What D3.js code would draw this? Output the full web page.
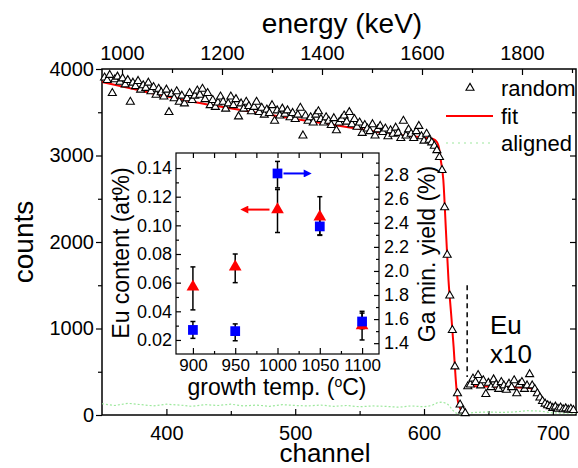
<!DOCTYPE html>
<html lang="en">
<head>
<meta charset="UTF-8">
<title>RBS spectrum</title>
<style>
  body { margin: 0; background: #fff; }
  svg text { font-family: "Liberation Sans", Arial, sans-serif; fill: #000; }
</style>
</head>
<body>
<script src="https://d3js.org/d3.v7.min.js"></script>
<script>

// ---- main spectrum: random direction (every 2 channels) ----
var channels = [
  352,354,356,358,360,362,364,366,368,370, 372,374,376,378,380,382,384,386,388,390,
  392,394,396,398,400,402,404,406,408,410, 412,414,416,418,420,422,424,426,428,430,
  432,434,436,438,440,442,444,446,448,450, 452,454,456,458,460,462,464,466,468,470,
  472,474,476,478,480,482,484,486,488,490, 492,494,496,498,500,502,504,506,508,510,
  512,514,516,518,520,522,524,526,528,530, 532,534,536,538,540,542,544,546,548,550,
  552,554,556,558,560,562,564,566,568,570, 572,574,576,578,580,582,584,586,588,590,
  592,594,596,598,600,602,604,606,608,610, 612,614,616,618,620,622,624,626,628,630,
  632,634,636,638,640,642,644,646,648,650, 652,654,656,658,660,662,664,666,668,670,
  672,674,676,678,680,682,684,686,688,690, 692,694,696,698,700,702,704,706,708,710,
  712,714,716
];
var randomCounts = [
  3900,3870,3930,3720,3880,3910,3850,3890,3820,3870, 3620,3840,3800,3860,3760,3810,3780,3840,3740,3790,
  3700,3770,3730,3680,3760,3500,3710,3660,3740,3620, 3690,3600,3660,3720,3640,3690,3750,3700,3770,3650,
  3720,3580,3640,3560,3610,3680,3620,3540,3600,3680, 3580,3650,3450,3600,3540,3620,3570,3510,3560,3620,
  3500,3550,3470,3530,3490,3580,3400,3520,3460,3540, 3480,3520,3440,3490,3420,3470,3550,3230,3460,3400,
  3440,3380,3470,3510,3420,3380,3440,3400,3350,3430, 3290,3380,3420,3460,3390,3500,3360,3420,3330,3380,
  3260,3350,3310,3280,3360,3230,3300,3340,3270,3310, 3220,3290,3250,3320,3260,3200,3400,3230,3300,3250,
  3200,3280,3340,3220,3170,3250,3180,3150,3110,3060, 2980,2830,2400,1850,1380,980,560,250,120,50,
  20,330,350,420,380,460,340,400,240,370, 320,410,350,300,380,340,290,360,320,400,
  250,350,380,300,340,470,340,300,250,200, 160,130,110,100,80,95,70,85,65,75,
  60,70,55
];

// fit curve (main part and Eu part)
var fitChannels = [350,380,426,460,500,540,574,600,607,610,612,613,615,617,619,621,623,624.5,625.5,627,630,633];
var fitCounts   = [3850,3750,3607,3520,3422,3330,3249,3205,3190,3156,3060,2950,2717,2139,1561,1179,786,439,254,116,35,5];
var fitEuChannels = [633.5,650,670,682,686,688,690,692,695,700,706,712,718];
var fitEuCounts   = [335,330,320,312,280,250,190,140,92,69,58,50,46];

// aligned direction
var alignedChannels = [350,360,370,380,390,400,410,420,430,440,450,460,470,480,490,500,510,520,530,540,
  550,560,570,580,590,600,606,610,614,618,620,622,624,626,630,634,640,650,660,670,680,690,700,710,718];
var alignedCounts = [130,110,135,120,105,125,115,100,120,110,125,105,115,100,120,110,105,115,100,110,
  95,105,100,90,105,95,110,140,150,130,100,60,30,15,10,20,30,35,30,35,50,45,25,20,20];

// ---- inset ----
var temps = [900, 950, 1000, 1050, 1100];
var euContent = [0.057, 0.071, 0.111, 0.106, 0.030];
var euLow     = [0.041, 0.060, 0.095, 0.093, 0.020];
var euHigh    = [0.071, 0.080, 0.125, 0.120, 0.040];
var gaYield = [1.51, 1.50, 2.81, 2.37, 1.58];
var gaLow   = [1.44, 1.42, 2.69, 2.30, 1.52];
var gaHigh  = [1.58, 1.56, 2.91, 2.44, 1.65];

// tick values
var chTicks = [400, 500, 600, 700], chMinor = [450, 550, 650];
var countTicks = [0, 1000, 2000, 3000, 4000], countMinor = [500, 1500, 2500, 3500];
var energyTicks = [1000, 1200, 1400, 1600, 1800], energyMinor = [1100, 1300, 1500, 1700, 1900];
var tempTicks = [900, 950, 1000, 1050, 1100], tempMinor = [925, 975, 1025, 1075];
var euTicks = [0.02, 0.04, 0.06, 0.08, 0.10, 0.12, 0.14], euMinor = [0.03, 0.05, 0.07, 0.09, 0.11, 0.13];
var gaTicks = [1.4, 1.6, 1.8, 2.0, 2.2, 2.4, 2.6, 2.8], gaMinor = [1.5, 1.7, 1.9, 2.1, 2.3, 2.5, 2.7, 2.9];

var width = 578, height = 468;
var plot = { left: 102, right: 576, top: 69, bottom: 415 };
var inset = { left: 176, right: 379, top: 153, bottom: 354 };
var intFmt = d3.format("d");

var svg = d3.select("body").append("svg")
  .attr("width", width).attr("height", height);

var x = d3.scaleLinear().domain([350, 718]).range([plot.left, plot.right]);
var xE = d3.scaleLinear().domain([960, 1908]).range([plot.left, plot.right]);
var y = d3.scaleLinear().domain([0, 4000]).range([plot.bottom, plot.top]);

function styleAxis(g, size) {
  g.select(".domain").remove();
  g.selectAll("line").attr("stroke", "#000").attr("stroke-width", 1.2);
  g.selectAll("text").attr("font-size", size).attr("fill", "#000");
  g.attr("font-family", null).attr("font-size", null);
}

function addAxis(parent, axis, tx, ty, size) {
  var g = parent.append("g").attr("transform", "translate(" + tx + "," + ty + ")").call(axis);
  styleAxis(g, size);
  return g;
}

// main axes
addAxis(svg, d3.axisBottom(x).tickValues(chTicks).tickFormat(intFmt).tickSizeInner(-6).tickSizeOuter(0).tickPadding(11), 0, plot.bottom, 20);
addAxis(svg, d3.axisBottom(x).tickValues(chMinor).tickSize(-4).tickFormat(""), 0, plot.bottom, 20);
addAxis(svg, d3.axisLeft(y).tickValues(countTicks).tickFormat(intFmt).tickSizeInner(6).tickSizeOuter(0).tickPadding(2), plot.left, 0, 20);
addAxis(svg, d3.axisLeft(y).tickValues(countMinor).tickSize(4).tickFormat(""), plot.left, 0, 20);
addAxis(svg, d3.axisTop(xE).tickValues(energyTicks).tickFormat(intFmt).tickSizeInner(-6).tickSizeOuter(0).tickPadding(9), 0, plot.top, 20);
addAxis(svg, d3.axisTop(xE).tickValues(energyMinor).tickSize(-4).tickFormat(""), 0, plot.top, 20);
addAxis(svg, d3.axisRight(y).tickValues(countTicks.slice(1, 4)).tickSize(-6).tickFormat(""), plot.right, 0, 20);
addAxis(svg, d3.axisRight(y).tickValues(countMinor).tickSize(-4).tickFormat(""), plot.right, 0, 20);

svg.append("rect")
  .attr("x", plot.left).attr("y", plot.top)
  .attr("width", plot.right - plot.left).attr("height", plot.bottom - plot.top)
  .attr("fill", "none").attr("stroke", "#000").attr("stroke-width", 1.5);

// aligned (green dotted)
var alignedLine = d3.line().x(function(d, i) { return x(alignedChannels[i]); })
  .y(function(d) { return y(d); });
svg.append("path").datum(alignedCounts)
  .attr("d", alignedLine)
  .attr("fill", "none").attr("stroke", "#9de89d").attr("stroke-width", 1.2)
  .attr("stroke-dasharray", "2,2");

// fit lines
var fitLine = d3.line().curve(d3.curveMonotoneX)
  .x(function(d) { return x(d[0]); }).y(function(d) { return y(d[1]); });
svg.append("path").datum(d3.zip(fitChannels, fitCounts))
  .attr("d", fitLine).attr("fill", "none").attr("stroke", "#ff0000").attr("stroke-width", 2);
svg.append("path").datum(d3.zip(fitEuChannels, fitEuCounts))
  .attr("d", fitLine).attr("fill", "none").attr("stroke", "#ff0000").attr("stroke-width", 2);

// random points
var smallTri = d3.symbol().type(d3.symbolTriangle).size(28);
svg.append("g").selectAll("path")
  .data(randomCounts)
  .enter().append("path")
  .attr("d", smallTri)
  .attr("transform", function(d, i) { return "translate(" + x(channels[i]) + "," + y(d) + ")"; })
  .attr("fill", "#fff").attr("stroke", "#000").attr("stroke-width", 1.1);

// dashed separator at Eu region
svg.append("line")
  .attr("x1", x(633.5)).attr("x2", x(633.5))
  .attr("y1", y(1500)).attr("y2", y(440))
  .attr("stroke", "#000").attr("stroke-width", 1.5).attr("stroke-dasharray", "5,4");

svg.append("text").attr("x", 490).attr("y", 334).attr("font-size", 26).text("Eu");
svg.append("text").attr("x", 490).attr("y", 363).attr("font-size", 26).text("x10");

// axis titles
svg.append("text").attr("x", 342).attr("y", 33).attr("text-anchor", "middle")
  .attr("font-size", 28).text("energy (keV)");
svg.append("text").attr("x", 325).attr("y", 462).attr("text-anchor", "middle")
  .attr("font-size", 26).text("channel");
svg.append("text").attr("transform", "translate(33,242) rotate(-90)").attr("text-anchor", "middle")
  .attr("font-size", 28).text("counts");

// legend
var legend = svg.append("g");
legend.append("path").attr("d", smallTri).attr("transform", "translate(470,88)")
  .attr("fill", "#fff").attr("stroke", "#000").attr("stroke-width", 1.1);
legend.append("text").attr("x", 501).attr("y", 96).attr("font-size", 22).text("random");
legend.append("line").attr("x1", 446).attr("x2", 493).attr("y1", 116).attr("y2", 116)
  .attr("stroke", "#ff0000").attr("stroke-width", 2);
legend.append("text").attr("x", 501).attr("y", 124).attr("font-size", 22).text("fit");
legend.append("line").attr("x1", 446).attr("x2", 493).attr("y1", 143).attr("y2", 143)
  .attr("stroke", "#9de89d").attr("stroke-width", 1.2).attr("stroke-dasharray", "2,4");
legend.append("text").attr("x", 501).attr("y", 151).attr("font-size", 22).text("aligned");

// ---- inset ----
var ix = d3.scaleLinear().domain([880, 1120]).range([inset.left, inset.right]);
var iyL = d3.scaleLinear().domain([0.0102, 0.1505]).range([inset.bottom, inset.top]);
var iyR = d3.scaleLinear().domain([1.31, 2.98]).range([inset.bottom, inset.top]);

var ig = svg.append("g");
ig.append("rect")
  .attr("x", inset.left).attr("y", inset.top)
  .attr("width", inset.right - inset.left).attr("height", inset.bottom - inset.top)
  .attr("fill", "#fff");

addAxis(ig, d3.axisBottom(ix).tickValues(tempTicks).tickFormat(intFmt).tickSizeInner(-6).tickSizeOuter(0).tickPadding(5), 0, inset.bottom, 17);
addAxis(ig, d3.axisBottom(ix).tickValues(tempMinor).tickSize(-3).tickFormat(""), 0, inset.bottom, 17);
addAxis(ig, d3.axisTop(ix).tickValues(tempTicks.concat(tempMinor)).tickSize(-5).tickFormat(""), 0, inset.top, 17);
addAxis(ig, d3.axisLeft(iyL).tickValues(euTicks).tickSizeInner(-5).tickSizeOuter(0).tickPadding(4).tickFormat(d3.format(".2f")), inset.left, 0, 18);
addAxis(ig, d3.axisLeft(iyL).tickValues(euMinor).tickSize(-3).tickFormat(""), inset.left, 0, 18);
addAxis(ig, d3.axisRight(iyR).tickValues(gaTicks).tickSizeInner(-5).tickSizeOuter(0).tickPadding(5).tickFormat(d3.format(".1f")), inset.right, 0, 18);
addAxis(ig, d3.axisRight(iyR).tickValues(gaMinor).tickSize(-3).tickFormat(""), inset.right, 0, 18);

ig.append("rect")
  .attr("x", inset.left).attr("y", inset.top)
  .attr("width", inset.right - inset.left).attr("height", inset.bottom - inset.top)
  .attr("fill", "none").attr("stroke", "#000").attr("stroke-width", 1.2);

function errorBars(g, lows, highs, scale) {
  temps.forEach(function(t, i) {
    var cx = ix(t);
    g.append("line").attr("x1", cx).attr("x2", cx)
      .attr("y1", scale(lows[i])).attr("y2", scale(highs[i]))
      .attr("stroke", "#000").attr("stroke-width", 1.5);
    [lows[i], highs[i]].forEach(function(v) {
      g.append("line").attr("x1", cx - 2.5).attr("x2", cx + 2.5)
        .attr("y1", scale(v)).attr("y2", scale(v))
        .attr("stroke", "#000").attr("stroke-width", 1.5);
    });
  });
}

errorBars(ig, euLow, euHigh, iyL);
errorBars(ig, gaLow, gaHigh, iyR);

ig.append("g").selectAll("path")
  .data(euContent)
  .enter().append("path")
  .attr("d", d3.symbol().type(d3.symbolTriangle).size(70))
  .attr("transform", function(d, i) { return "translate(" + ix(temps[i]) + "," + iyL(d) + ")"; })
  .attr("fill", "#ff0000");

ig.append("g").selectAll("path")
  .data(gaYield)
  .enter().append("path")
  .attr("d", d3.symbol().type(d3.symbolSquare).size(95))
  .attr("transform", function(d, i) { return "translate(" + ix(temps[i]) + "," + iyR(d) + ")"; })
  .attr("fill", "#0000ff");

// arrows pointing to the matching axis
var defs = svg.append("defs");
[["arrowRed", "#ff0000"], ["arrowBlue", "#0000ff"]].forEach(function(m) {
  defs.append("marker").attr("id", m[0])
    .attr("viewBox", "0 0 10 10").attr("refX", 1).attr("refY", 5)
    .attr("markerWidth", 5).attr("markerHeight", 4)
    .attr("markerUnits", "strokeWidth").attr("orient", "auto")
    .append("path").attr("d", "M0,0 L10,5 L0,10 Z").attr("fill", m[1]);
});

ig.append("line")
  .attr("x1", ix(1000) - 8).attr("x2", ix(1000) - 30)
  .attr("y1", iyL(euContent[2])).attr("y2", iyL(euContent[2]))
  .attr("stroke", "#ff0000").attr("stroke-width", 2)
  .attr("marker-end", "url(#arrowRed)");
ig.append("line")
  .attr("x1", ix(1000) + 6).attr("x2", ix(1000) + 27)
  .attr("y1", iyR(gaYield[2])).attr("y2", iyR(gaYield[2]))
  .attr("stroke", "#0000ff").attr("stroke-width", 2)
  .attr("marker-end", "url(#arrowBlue)");

// inset titles
ig.append("text").attr("transform", "translate(129,253) rotate(-90)").attr("text-anchor", "middle")
  .attr("font-size", 23).text("Eu content (at%)");
ig.append("text").attr("transform", "translate(435,254) rotate(-90)").attr("text-anchor", "middle")
  .attr("font-size", 23).text("Ga min. yield (%)");
var tt = ig.append("text").attr("x", 277).attr("y", 395).attr("text-anchor", "middle")
  .attr("font-size", 23);
tt.append("tspan").text("growth temp. (");
tt.append("tspan").attr("font-size", 14).attr("dy", -8).text("o");
tt.append("tspan").attr("dy", 8).text("C)");

</script>
</body>
</html>
